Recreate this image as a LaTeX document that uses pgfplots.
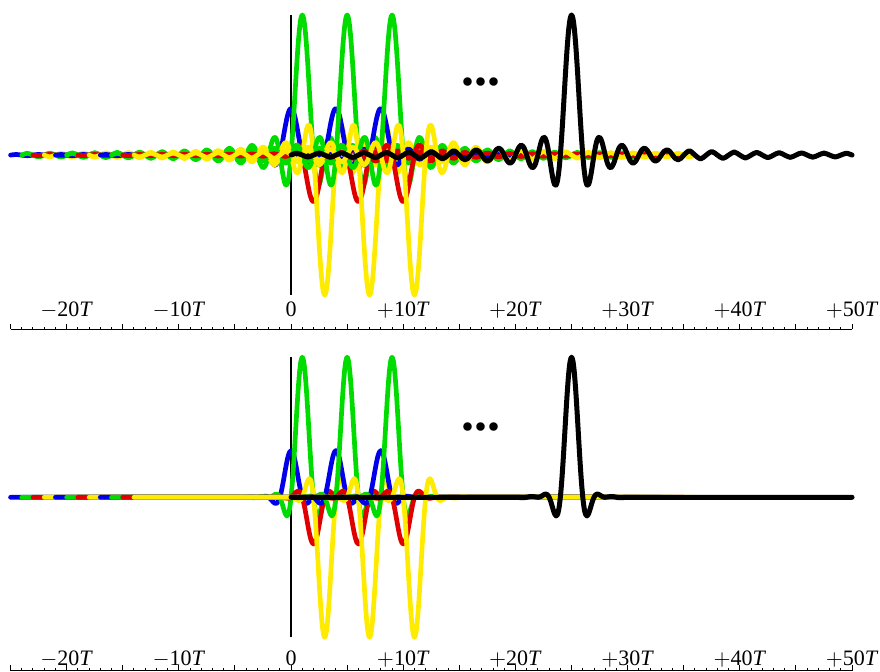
\documentclass[border=0pt]{standalone}
\usepackage{pgfplots}
\pgfplotsset{compat=1.18}
\usepackage{pgfplotstable}
\usepackage{fontspec}
\setmainfont{Liberation Serif}
\definecolor{cb}{RGB}{0,0,235}
\definecolor{cg}{RGB}{0,220,0}
\definecolor{cr}{RGB}{225,0,0}
\definecolor{cy}{RGB}{255,235,0}

% normalized sinc pulse (top panel)
\pgfplotstableread{
x y
-25 0
-24.5 0.0130
-24 0
-23.5 -0.0135
-23 0
-22.5 0.0141
-22 0
-21.5 -0.0148
-21 0
-20.5 0.0155
-20 0
-19.5 -0.0163
-19 0
-18.5 0.0172
-18 0
-17.5 -0.0182
-17 0
-16.5 0.0193
-16 0
-15.5 -0.0205
-15 0
-14.5 0.0220
-14 0
-13.5 -0.0236
-13 0
-12.5 0.0255
-12 0
-11.5 -0.0277
-11 0
-10.5 0.0303
-10 0
-9.75 -0.0231
-9.5 -0.0335
-9.25 -0.0243
-9 0
-8.75 0.0257
-8.5 0.0374
-8.25 0.0273
-8 0
-7.75 -0.0290
-7.5 -0.0424
-7.25 -0.0310
-7 0
-6.75 0.0333
-6.5 0.0490
-6.25 0.0360
-6 0
-5.75 -0.0391
-5.5 -0.0579
-5.25 -0.0429
-5 0
-4.75 0.0474
-4.5 0.0707
-4.25 0.0530
-4 0
-3.75 -0.0600
-3.5 -0.0909
-3.25 -0.0693
-3 0
-2.875 0.0424
-2.75 0.0818
-2.625 0.1120
-2.5 0.1273
-2.375 0.1238
-2.25 0.1000
-2.125 0.0573
-2 0
-1.875 -0.0650
-1.75 -0.1286
-1.625 -0.1810
-1.5 -0.2122
-1.375 -0.2139
-1.25 -0.1801
-1.125 -0.1083
-1 0
-0.875 0.1392
-0.75 0.3001
-0.625 0.4705
-0.5 0.6366
-0.375 0.7842
-0.25 0.9003
-0.125 0.9745
0 1
0.125 0.9745
0.25 0.9003
0.375 0.7842
0.5 0.6366
0.625 0.4705
0.75 0.3001
0.875 0.1392
1 0
1.125 -0.1083
1.25 -0.1801
1.375 -0.2139
1.5 -0.2122
1.625 -0.1810
1.75 -0.1286
1.875 -0.0650
2 0
2.125 0.0573
2.25 0.1000
2.375 0.1238
2.5 0.1273
2.625 0.1120
2.75 0.0818
2.875 0.0424
3 0
3.25 -0.0693
3.5 -0.0909
3.75 -0.0600
4 0
4.25 0.0530
4.5 0.0707
4.75 0.0474
5 0
5.25 -0.0429
5.5 -0.0579
5.75 -0.0391
6 0
6.25 0.0360
6.5 0.0490
6.75 0.0333
7 0
7.25 -0.0310
7.5 -0.0424
7.75 -0.0290
8 0
8.25 0.0273
8.5 0.0374
8.75 0.0257
9 0
9.25 -0.0243
9.5 -0.0335
9.75 -0.0231
10 0
10.5 0.0303
11 0
11.5 -0.0277
12 0
12.5 0.0255
13 0
13.5 -0.0236
14 0
14.5 0.0220
15 0
15.5 -0.0205
16 0
16.5 0.0193
17 0
17.5 -0.0182
18 0
18.5 0.0172
19 0
19.5 -0.0163
20 0
20.5 0.0155
21 0
21.5 -0.0148
22 0
22.5 0.0141
23 0
23.5 -0.0135
24 0
24.5 0.0130
25 0
}\sinctab

% normalized raised-cosine pulse (bottom panel)
\pgfplotstableread{
x y
-25 0
-20 0
-15 0
-10 0
-6 0
-5 0
-4.75 -0.0008
-4.5 -0.0026
-4.25 -0.0029
-4 0
-3.75 0.0042
-3.5 0.0057
-3.25 0.0028
-3 0
-2.875 0.0011
-2.75 0.0048
-2.625 0.0106
-2.5 0.0172
-2.375 0.0222
-2.25 0.0227
-2.125 0.0160
-2 0
-1.875 -0.0253
-1.75 -0.0576
-1.625 -0.0917
-1.5 -0.1200
-1.375 -0.1334
-1.25 -0.1225
-1.125 -0.0795
-1 0
-0.875 0.1159
-0.75 0.2625
-0.625 0.4290
-0.5 0.6002
-0.375 0.7587
-0.25 0.8873
-0.125 0.9710
0 1
0.125 0.9710
0.25 0.8873
0.375 0.7587
0.5 0.6002
0.625 0.4290
0.75 0.2625
0.875 0.1159
1 0
1.125 -0.0795
1.25 -0.1225
1.375 -0.1334
1.5 -0.1200
1.625 -0.0917
1.75 -0.0576
1.875 -0.0253
2 0
2.125 0.0160
2.25 0.0227
2.375 0.0222
2.5 0.0172
2.625 0.0106
2.75 0.0048
2.875 0.0011
3 0
3.25 0.0028
3.5 0.0057
3.75 0.0042
4 0
4.25 -0.0029
4.5 -0.0026
4.75 -0.0008
5 0
6 0
10 0
15 0
20 0
25 0
}\rctab

\pgfplotsset{
  panel/.style={
    scale only axis, width=420.5pt,
    xmin=-25, xmax=50, ymax=1.107,
    axis x line=bottom, axis y line=none,
    x axis line style={-, line width=0.6pt},
    xtick={-25,-20,...,50},
    xticklabels={{},{$-$20\textit{T}},{},{$-$10\textit{T}},{},{0},{},{$+$10\textit{T}},{},{$+$20\textit{T}},{},{$+$30\textit{T}},{},{$+$40\textit{T}},{},{$+$50\textit{T}}},
    minor x tick num=4,
    tick align=inside,
    major tick length=2.7pt, minor tick length=1.3pt,
    every tick/.style={black, line width=0.5pt},
    clip=false,
    every axis plot/.append style={no marks, smooth, line width=2.35pt, line cap=round, line join=round},
  },
}

\begin{document}
\begin{tikzpicture}
% ---------------- top panel: sinc pulses ----------------
\begin{axis}[panel, at={(0,0)}, anchor=north west, height=164.5pt, ymin=-1.243,
  xticklabel style={anchor=base, inner sep=0pt, yshift=6.5pt, font=\fontsize{11}{13}\selectfont}]
\path (axis cs:-25.94,1.107) (axis cs:52.49,1.107);
\draw[line width=0.6pt] (axis cs:0,-1) -- (axis cs:0,1);
\addplot[cb] table[x expr=\thisrow{x}+0,  y expr=0.3333*\thisrow{y}] {\sinctab};
\addplot[cg] table[x expr=\thisrow{x}+1,  y expr=\thisrow{y}] {\sinctab};
\addplot[cr] table[x expr=\thisrow{x}+2,  y expr=-0.3333*\thisrow{y}] {\sinctab};
\addplot[cy] table[x expr=\thisrow{x}+3,  y expr=-\thisrow{y}] {\sinctab};
\addplot[cb] table[x expr=\thisrow{x}+4,  y expr=0.3333*\thisrow{y}] {\sinctab};
\addplot[cg] table[x expr=\thisrow{x}+5,  y expr=\thisrow{y}] {\sinctab};
\addplot[cr] table[x expr=\thisrow{x}+6,  y expr=-0.3333*\thisrow{y}] {\sinctab};
\addplot[cy] table[x expr=\thisrow{x}+7,  y expr=-\thisrow{y}] {\sinctab};
\addplot[cb] table[x expr=\thisrow{x}+8,  y expr=0.3333*\thisrow{y}] {\sinctab};
\addplot[cg] table[x expr=\thisrow{x}+9,  y expr=\thisrow{y}] {\sinctab};
\addplot[cr] table[x expr=\thisrow{x}+10, y expr=-0.3333*\thisrow{y}] {\sinctab};
\addplot[cy] table[x expr=\thisrow{x}+11, y expr=-\thisrow{y}] {\sinctab};
\addplot[black, line width=2.5pt] table[x expr=\thisrow{x}+25, y expr=\thisrow{y}] {\sinctab};
\node[font=\fontsize{26}{26}\selectfont\bfseries] at (axis cs:16.9,0.52) {...};
\end{axis}
% ---------------- bottom panel: raised-cosine pulses ----------------
\begin{axis}[panel, at={(0,-171pt)}, anchor=north west, height=164.2pt, ymin=-1.239,
  xticklabel style={anchor=base, inner sep=0pt, yshift=2.75pt, font=\fontsize{11}{13}\selectfont}]
\path (axis cs:-25.94,-1.239) (axis cs:52.49,-1.239);
\draw[line width=0.6pt] (axis cs:0,-1) -- (axis cs:0,1);
\addplot[cb] table[x expr=\thisrow{x}+0,  y expr=0.3333*\thisrow{y}] {\rctab};
\addplot[cg] table[x expr=\thisrow{x}+1,  y expr=\thisrow{y}] {\rctab};
\addplot[cr] table[x expr=\thisrow{x}+2,  y expr=-0.3333*\thisrow{y}] {\rctab};
\addplot[cy] table[x expr=\thisrow{x}+3,  y expr=-\thisrow{y}] {\rctab};
\addplot[cb] table[x expr=\thisrow{x}+4,  y expr=0.3333*\thisrow{y}] {\rctab};
\addplot[cg] table[x expr=\thisrow{x}+5,  y expr=\thisrow{y}] {\rctab};
\addplot[cr] table[x expr=\thisrow{x}+6,  y expr=-0.3333*\thisrow{y}] {\rctab};
\addplot[cy] table[x expr=\thisrow{x}+7,  y expr=-\thisrow{y}] {\rctab};
\addplot[cb] table[x expr=\thisrow{x}+8,  y expr=0.3333*\thisrow{y}] {\rctab};
\addplot[cg] table[x expr=\thisrow{x}+9,  y expr=\thisrow{y}] {\rctab};
\addplot[cr] table[x expr=\thisrow{x}+10, y expr=-0.3333*\thisrow{y}] {\rctab};
\addplot[cy] table[x expr=\thisrow{x}+11, y expr=-\thisrow{y}] {\rctab};
\addplot[black, line width=2.5pt] table[x expr=\thisrow{x}+25, y expr=\thisrow{y}] {\rctab};
\node[font=\fontsize{26}{26}\selectfont\bfseries] at (axis cs:16.9,0.50) {...};
\end{axis}
\end{tikzpicture}
\end{document}
